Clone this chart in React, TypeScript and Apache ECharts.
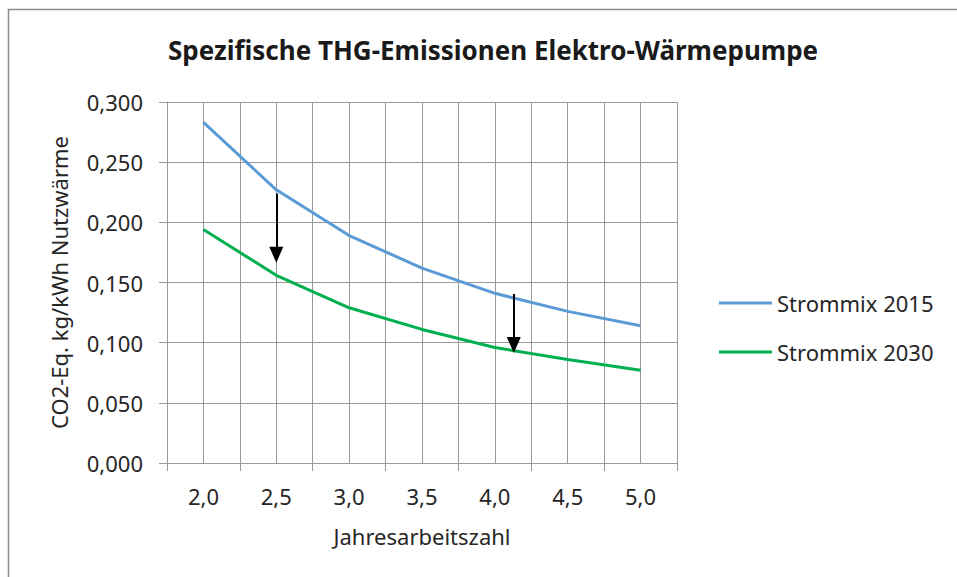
import React, { useEffect, useRef } from "react";
import * as echarts from "echarts";

const categories = ["2,0", "2,5", "3,0", "3,5", "4,0", "4,5", "5,0"];
const minorCategories = ["a", "b", "c", "d", "e", "f", "g", "h", "i", "j", "k", "l", "m", "n"];
const strommix2015 = [0.283, 0.227, 0.189, 0.162, 0.141, 0.126, 0.114];
const strommix2030 = [0.194, 0.156, 0.129, 0.111, 0.096, 0.086, 0.077];
const arrow1 = [[2.5, 0.224], [2.5, 0.173]];
const arrow2 = [[4.13, 0.1405], [4.13, 0.098]];

const FONT = "Noto Sans";

export default function App() {
  const ref = useRef<HTMLDivElement>(null);
  useEffect(() => {
    if (!ref.current) return;
    const chart = echarts.init(ref.current, undefined, { renderer: "svg" });
    const gridColor = "#999999";
    chart.setOption({
      animation: false,
      backgroundColor: "#ffffff",
      textStyle: { fontFamily: FONT },
      title: {
        text: "Spezifische THG-Emissionen Elektro-Wärmepumpe",
        left: 488,
        top: 32,
        textAlign: "center",
        textStyle: { fontFamily: FONT, fontSize: 26, fontWeight: "bold", color: "#1a1a1a" },
      },
      graphic: [
        {
          type: "rect",
          shape: { x: 8.5, y: 9.5, width: 1000, height: 1000 },
          style: { fill: "none", stroke: "#8c8c8c", lineWidth: 1.5 },
          silent: true,
        },
      ],
      legend: {
        orient: "vertical",
        left: 719,
        top: 292,
        padding: 0,
        itemWidth: 53,
        itemHeight: 3,
        itemGap: 27,
        data: [
          { name: "Strommix 2015", icon: "rect" },
          { name: "Strommix 2030", icon: "rect" },
        ],
        textStyle: { fontFamily: FONT, fontSize: 22, color: "#262626" },
      },
      grid: { left: 167, top: 102, width: 510, height: 361, containLabel: false },
      xAxis: [
        {
          type: "category",
          data: categories,
          boundaryGap: true,
          position: "bottom",
          name: "Jahresarbeitszahl",
          nameLocation: "middle",
          nameGap: 62,
          nameTextStyle: { fontFamily: FONT, fontSize: 22, color: "#262626" },
          axisLine: { show: true, lineStyle: { color: gridColor, width: 1 } },
          axisTick: { show: true, length: 8, lineStyle: { color: gridColor } },
          axisLabel: { margin: 22, fontFamily: FONT, fontSize: 22, color: "#262626" },
          splitLine: { show: false },
        },
        {
          type: "category",
          data: minorCategories,
          boundaryGap: true,
          position: "bottom",
          axisLine: { show: false },
          axisTick: { show: false },
          axisLabel: { show: false },
          splitLine: { show: true, lineStyle: { color: gridColor, width: 1 } },
        },
        {
          type: "value",
          min: 1.75,
          max: 5.25,
          show: false,
          splitLine: { show: false },
        },
      ],
      yAxis: {
        type: "value",
        min: 0,
        max: 0.3,
        interval: 0.05,
        name: "CO2-Eq. kg/kWh Nutzwärme",
        nameLocation: "middle",
        nameRotate: 90,
        nameGap: 97,
        nameTextStyle: { fontFamily: FONT, fontSize: 22, color: "#262626" },
        axisLine: { show: true, lineStyle: { color: gridColor, width: 1 } },
        axisTick: { show: true, length: 8, lineStyle: { color: gridColor } },
        axisLabel: {
          margin: 24,
          fontFamily: FONT,
          fontSize: 22,
          color: "#262626",
          formatter: (v: number) => v.toFixed(3).replace(".", ","),
        },
        splitLine: { show: true, lineStyle: { color: gridColor, width: 1 } },
      },
      series: [
        {
          name: "Strommix 2015",
          type: "line",
          xAxisIndex: 0,
          data: strommix2015,
          symbol: "none",
          lineStyle: { color: "#5B9BD5", width: 3 },
          itemStyle: { color: "#5B9BD5" },
        },
        {
          name: "Strommix 2030",
          type: "line",
          xAxisIndex: 0,
          data: strommix2030,
          symbol: "none",
          lineStyle: { color: "#00B050", width: 3 },
          itemStyle: { color: "#00B050" },
        },
        {
          name: "arrows",
          type: "line",
          xAxisIndex: 2,
          data: [],
          symbol: "none",
          markLine: {
            silent: true,
            symbol: ["none", "triangle"],
            symbolSize: [14, 16],
            label: { show: false },
            lineStyle: { color: "#000000", width: 2, type: "solid" },
            data: [
              [{ coord: arrow1[0] }, { coord: arrow1[1] }],
              [{ coord: arrow2[0] }, { coord: arrow2[1] }],
            ],
          },
        },
      ],
    });
    return () => chart.dispose();
  }, []);
  return (
    <div
      ref={ref}
      style={{ position: "fixed", left: 0, top: 0, width: 957, height: 577, background: "#fff" }}
    />
  );
}
